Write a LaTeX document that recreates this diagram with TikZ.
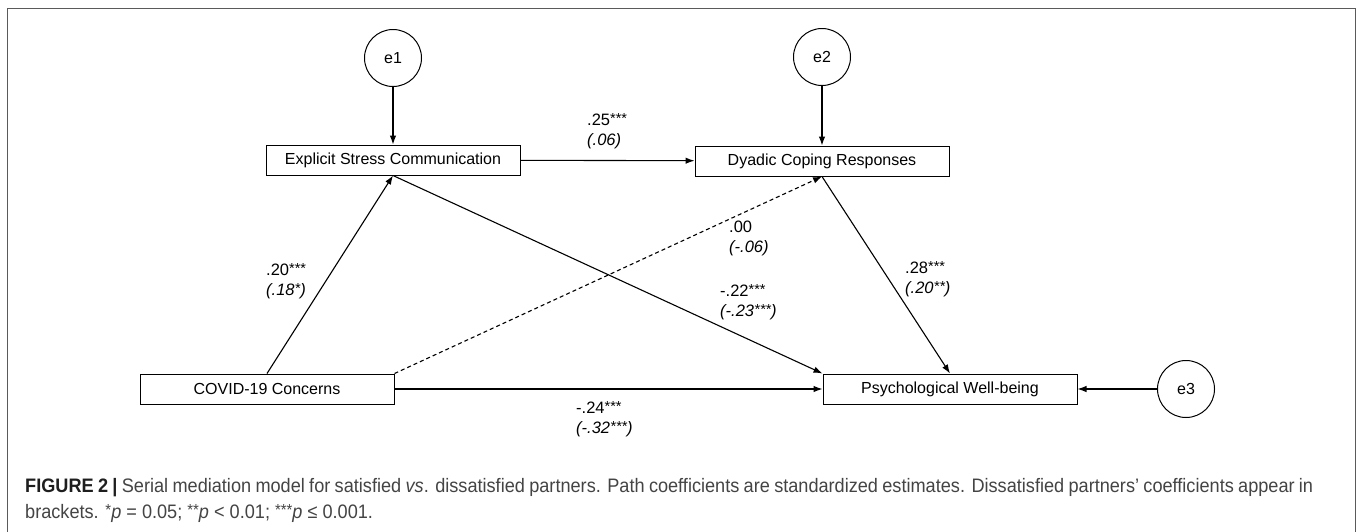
\documentclass[tikz,border=0pt]{standalone}
\usepackage{fontspec}
\setmainfont{Liberation Sans}
\newfontfamily\capfont[FakeStretch=0.93]{Liberation Sans}
\usetikzlibrary{arrows.meta}
\definecolor{framegray}{HTML}{5A5A5A}
\definecolor{captext}{HTML}{444444}
\definecolor{capbold}{HTML}{1E1E1E}
\newcommand{\stars}[1]{\raisebox{0.12em}{\fontsize{14.5}{14.5}\selectfont #1}}
\newcommand{\capstars}[1]{\raisebox{0.12em}{\fontsize{16}{16}\selectfont #1}}
\begin{document}
\begin{tikzpicture}[x=1pt,y=-1pt,
  box/.style={draw, line width=1pt, minimum width=254pt, minimum height=30pt, inner sep=0pt, font=\fontsize{16}{19}\selectfont},
  err/.style={draw, circle, line width=1pt, minimum size=57pt, inner sep=0pt, font=\fontsize{16}{19}\selectfont},
  conn/.style={line width=1.1pt, -{Latex[length=9pt,width=6.5pt]}},
  dashconn/.style={conn, dash pattern=on 4pt off 3pt},
  coef/.style={anchor=west, align=left, inner sep=0pt, font=\fontsize{16.5}{20}\selectfont},
  captxt/.style={anchor=base west, inner sep=0pt, text=captext, font=\capfont\fontsize{19.5}{23}\selectfont},
]
\useasboundingbox (0,0) rectangle (1357,531);
\fill[white] (0,0) rectangle (1357,531);
% frame
\draw[framegray, line width=1.5pt] (7.5,540) -- (7.5,8.5) -- (1355.5,8.5) -- (1355.5,540);

% nodes
\node[err] (e1) at (393,58) {e1};
\node[err] (e2) at (822,57) {e2};
\node[err] (e3) at (1186,389) {e3};
\node[box] (esc) at (393,160) {Explicit Stress Communication};
\node[box] (dcr) at (822,161) {Dyadic Coping Responses};
\node[box] (cov) at (267,389) {COVID-19 Concerns};
\node[box] (pwb) at (950,389) {Psychological Well-being};

% connectors
\draw[conn] (e1) -- (esc);
\draw[conn] (e2) -- (dcr);
\draw[conn] (e3) -- (pwb);
\draw[conn] (esc) -- (dcr);
\draw[conn] (cov.north) -- (esc.south);
\draw[conn] (esc.south) -- (pwb.north west);
\draw[dashconn] (cov.north east) -- (dcr.south);
\draw[conn] (dcr.south) -- (pwb.north);
\draw[conn] (cov) -- (pwb);

% coefficients
\node[coef] (l25) at (587,131) {.25\stars{***}\\\textit{(.06)}};
\node[coef] (l00) at (729,238) {.00\\\textit{(-.06)}};
\node[coef] (l20) at (266,281) {.20\stars{***}\\\textit{(.18\stars{*})}};
\node[coef] (l22) at (720,302) {-.22\stars{***}\\\textit{(-.23\stars{***})}};
\node[coef] (l28) at (905,279) {.28\stars{***}\\\textit{(.20\stars{**})}};
\node[coef] (l24) at (576,419) {-.24\stars{***}\\\textit{(-.32\stars{***})}};

% caption
\node[captxt] (cap1) at (25,492) {\makebox[1288pt][s]{{\bfseries\color{capbold}FIGURE 2 |} Serial mediation model for satisfied \textit{vs}. dissatisfied partners. Path coefficients are standardized estimates. Dissatisfied partners’ coefficients appear in}};
\node[captxt] (cap2) at (25,518) {brackets. \capstars{*}\textit{p} = 0.05; \capstars{**}\textit{p} < 0.01; \capstars{***}\textit{p} ≤ 0.001.};
\end{tikzpicture}
\end{document}
